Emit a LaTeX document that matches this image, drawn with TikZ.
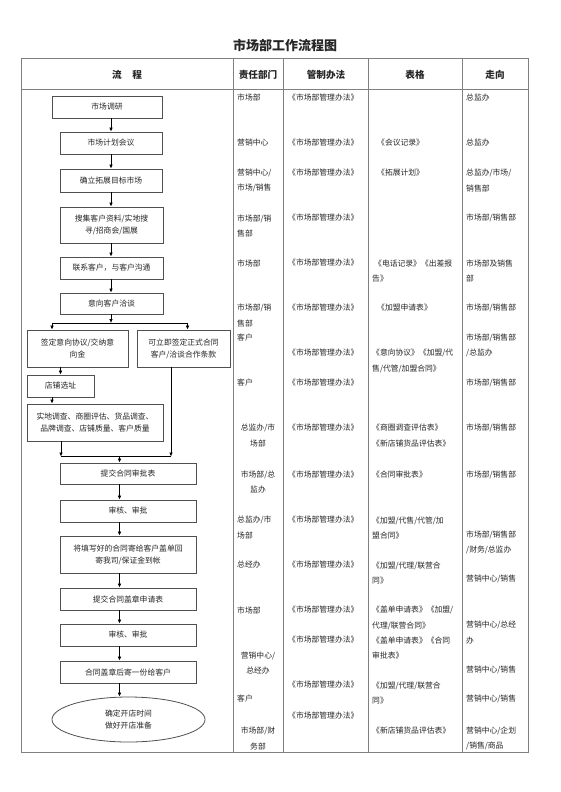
\documentclass[tikz,border=0pt]{standalone}
\usepackage{fontspec}
\setmainfont{Noto Sans CJK SC}
\usetikzlibrary{arrows.meta,shapes.geometric}
\definecolor{txt}{HTML}{262626}
\definecolor{gridc}{HTML}{808080}
\definecolor{boxc}{HTML}{505050}
\newcommand\fsb{\fontsize{7.8}{12}\selectfont}
\newcommand\fst{\fontsize{7.8}{15.5}\selectfont}
\newcommand\fsh{\fontsize{9.6}{12}\selectfont\bfseries}
\begin{document}
\begin{tikzpicture}[x=1pt,y=-1pt,
  every node/.style={inner sep=0pt, text=txt},
  box/.style={draw=boxc, line width=0.8pt, align=center, font=\fsb},
  cell/.style={anchor=west, align=left, font=\fst},
  ccell/.style={anchor=center, align=center, font=\fst},
  arr/.style={draw=black, line width=0.75pt, -{Latex[length=4pt,width=3.6pt]}},
  ln/.style={draw=black, line width=0.75pt},
  gridl/.style={draw=gridc, line width=0.8pt}]
\useasboundingbox (0,0) rectangle (560,792);
\fill[white] (0,0) rectangle (560,792);

% title
\node[font=\fontsize{13}{15}\selectfont\bfseries] (title) at (285,45) {市场部工作流程图};

% grid
\draw[gridl] (21,58) rectangle (528,752);
\draw[gridl] (21,89) -- (528,89);
\foreach \xx in {233,283,368,462} \draw[gridl] (\xx,58) -- (\xx,752);

% header
\node[font=\fsh] (h1) at (127,75) {流\hspace{1.1em}程};
\node[font=\fsh] (h2) at (258,75) {责任部门};
\node[font=\fsh] (h3) at (326,75) {管制办法};
\node[font=\fsh] (h4) at (415,75) {表格};
\node[font=\fsh] (h5) at (495,75) {走向};

% flow boxes
\node[box, minimum width=110pt, minimum height=22pt] (b1) at (107,107) {市场调研};
\node[box, minimum width=102pt, minimum height=22pt] (b2) at (111,143) {市场计划会议};
\node[box, minimum width=102pt, minimum height=23pt] (b3) at (111,180.5) {确立拓展目标市场};
\node[box, minimum width=103pt, minimum height=36pt] (b4) at (111.5,225) {搜集客户资料/实地搜\\寻/招商会/国展};
\node[box, minimum width=103pt, minimum height=22pt] (b5) at (111.5,268) {联系客户，与客户沟通};
\node[box, minimum width=103pt, minimum height=21pt] (b6) at (111.5,303.5) {意向客户洽谈};
\node[box, minimum width=101pt, minimum height=37pt] (b7a) at (77.5,348.5) {签定意向协议/交纳意\\向金};
\node[box, minimum width=93pt, minimum height=37pt] (b7b) at (183.5,348.5) {可立即签定正式合同\\客户/洽谈合作条款};
\node[box, minimum width=67pt, minimum height=22pt] (b8) at (60.5,386) {店铺选址};
\node[box, minimum width=136pt, minimum height=37pt] (b9) at (95,422.5) {实地调查、商圈评估、货品调查、\\品牌调查、店铺质量、客户质量};
\node[box, minimum width=136pt, minimum height=21pt] (b10) at (128,473.5) {提交合同审批表};
\node[box, minimum width=136pt, minimum height=22pt] (b11) at (128,511) {审核、审批};
\node[box, minimum width=136pt, minimum height=37pt] (b12) at (128,554.5) {将填写好的合同寄给客户盖单回\\寄我司/保证金到帐};
\node[box, minimum width=136pt, minimum height=22pt] (b13) at (128,599) {提交合同盖章申请表};
\node[box, minimum width=136pt, minimum height=22pt] (b14) at (128,635) {审核、审批};
\node[box, minimum width=136pt, minimum height=22pt] (b15) at (128,672) {合同盖章后寄一份给客户};
\node[box, ellipse, minimum width=153pt, minimum height=45pt] (b16) at (128.5,719.5) {确定开店时间\\做好开店准备};

% connectors
\draw[arr] (b1.south -| b2) -- (b2.north);
\draw[arr] (b2.south) -- (b3.north);
\draw[arr] (b3.south) -- (b4.north -| b3);
\draw[arr] (b4.south -| b3) -- (b5.north -| b3);
\draw[arr] (b5.south -| b3) -- (b6.north -| b3);
\coordinate (sp) at (111,323);
\coordinate (s1) at (52,323);
\coordinate (s2) at (187.5,323);
\draw[arr] (b6.south -| b3) -- (sp);
\draw[ln] (s1) -- (s2);
\draw[arr] (s1) -- (s1 |- b7a.north);
\draw[arr] (s2) -- (s2 |- b7b.north);
\draw[arr] (b7a.south -| b8) -- (b8.north);
\draw[arr] (b8.south -| s1) -- (s1 |- b9.north);
\coordinate (mg) at (119.5,456.5);
\coordinate (m1) at (61,456.5);
\coordinate (m2) at (171,456.5);
\draw[arr] (m1 |- b9.south) -- (m1);
\draw[arr] (m2 |- b7b.south) -- (m2);
\draw[ln] (m1) -- (m2);
\draw[arr] (mg) -- (mg |- b10.north);
\draw[arr] (b10.south -| mg) -- (b11.north -| mg);
\draw[arr] (b11.south -| mg) -- (b12.north -| mg);
\draw[arr] (b12.south -| mg) -- (b13.north -| mg);
\draw[arr] (b13.south -| mg) -- (b14.north -| mg);
\draw[arr] (b14.south -| mg) -- (b15.north -| mg);
\draw[arr] (b15.south -| mg) -- (b16.north -| mg);

% column: responsible dept
\node[cell] (d1) at (237,98) {市场部};
\node[cell] (d2) at (237,143) {营销中心};
\node[cell] (d3) at (237,180.5) {营销中心/\\市场/销售};
\node[cell] (d4) at (237,226) {市场部/销\\售部};
\node[cell] (d5) at (237,263) {市场部};
\node[cell] (d6) at (237,315.5) {市场部/销\\售部};
\node[cell] (d7) at (237,338) {客户};
\node[cell] (d8) at (237,383) {客户};
\node[ccell] (d9) at (258,435.5) {总监办/市\\场部};
\node[ccell] (d10) at (258,482) {市场部/总\\监办};
\node[cell] (d11) at (237,527.5) {总监办/市\\场部};
\node[cell] (d12) at (237,565) {总经办};
\node[cell] (d13) at (237,610) {市场部};
\node[ccell] (d14) at (258,663) {营销中心/\\总经办};
\node[cell] (d15) at (237,699) {客户};
\node[ccell] (d16) at (258,738.5) {市场部/财\\务部};

% column: management method
\foreach \yy [count=\i] in {98,143,173,218,263,308,353,383,428,475,520,565,610,640,685,716}
  \node[cell] (m\i) at (288,\yy) {《市场部管理办法》};

% column: forms
\node[cell] (f1) at (372,143) {\hspace{5pt}《会议记录》};
\node[cell] (f2) at (372,173) {\hspace{5pt}《拓展计划》};
\node[cell] (f3) at (372,271) {\hspace{2pt}《电话记录》《出差报\\告》};
\node[cell] (f4) at (372,308) {\hspace{5pt}《加盟申请表》};
\node[cell] (f5) at (372,361) {《意向协议》《加盟/代\\售/代管/加盟合同》};
\node[cell] (f6) at (372,435.5) {《商圈调查评估表》\\《新店铺货品评估表》};
\node[cell] (f7) at (372,475) {《合同审批表》};
\node[cell] (f8) at (372,528) {《加盟/代售/代管/加\\盟合同》};
\node[cell] (f9) at (372,573) {《加盟/代理/联营合\\同》};
\node[cell] (f10) at (372,618) {《盖单申请表》《加盟/\\代理/联营合同》};
\node[cell] (f11) at (372,648) {《盖单申请表》《合同\\审批表》};
\node[cell] (f12) at (372,693) {《加盟/代理/联营合\\同》};
\node[cell] (f13) at (372,731) {《新店铺货品评估表》};

% column: direction
\node[cell] (g1) at (466,98) {总监办};
\node[cell] (g2) at (466,143) {总监办};
\node[cell] (g3) at (466,180.5) {总监办/市场/\\销售部};
\node[cell] (g4) at (466,218) {市场部/销售部};
\node[cell] (g5) at (466,271) {市场部及销售\\部};
\node[cell] (g6) at (466,308) {市场部/销售部};
\node[cell] (g7) at (466,345.5) {市场部/销售部\\/总监办};
\node[cell] (g8) at (466,383) {市场部/销售部};
\node[cell] (g9) at (466,428) {市场部/销售部};
\node[cell] (g10) at (466,475) {市场部/销售部};
\node[cell] (g11) at (466,542.5) {市场部/销售部\\/财务/总监办};
\node[cell] (g12) at (466,579) {营销中心/销售};
\node[cell] (g13) at (466,632.5) {营销中心/总经\\办};
\node[cell] (g14) at (466,670) {营销中心/销售};
\node[cell] (g15) at (466,699) {营销中心/销售};
\node[cell] (g16) at (466,738.5) {营销中心/企划\\/销售/商品};
\end{tikzpicture}
\end{document}
